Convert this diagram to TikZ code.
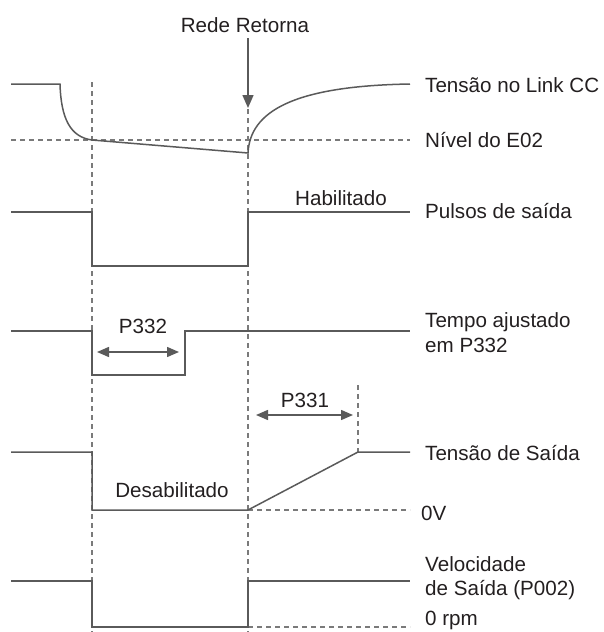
\documentclass[tikz,border=0pt]{standalone}
\usepackage{fontspec}
\setmainfont{Liberation Sans}
\usetikzlibrary{arrows.meta}
\definecolor{sigc}{HTML}{5A5A5A}
\definecolor{guidec}{HTML}{7A7A7A}
\definecolor{txtc}{HTML}{231F20}
\begin{document}
\begin{tikzpicture}[x=1pt,y=-1pt,
  sig/.style={draw=sigc,line width=1.5pt},
  guide/.style={draw=guidec,line width=1.2pt,dash pattern=on 5pt off 4pt},
  lbl/.style={anchor=base west,inner sep=0pt,text=txtc,font=\fontsize{20.6}{24}\selectfont},
  clbl/.style={anchor=base,inner sep=0pt,text=txtc,font=\fontsize{20.6}{24}\selectfont},
  dimarrow/.style={sig,{Triangle[length=12pt,width=10pt]}-{Triangle[length=12pt,width=10pt]}}]
\useasboundingbox (0,0) rectangle (603,632);

% vertical guides
\draw[guide] (92,82) -- (92,632);
\draw[guide] (248,82) -- (248,632);

% trace 1: Link CC
\draw[guide] (11,140) -- (410,140);
\draw[sig] (11,84) -- (60,84) .. controls (61,118) and (70,137) .. (92,140)
  -- (248,153) .. controls (250,112) and (292,86) .. (410,84);

% Rede Retorna arrow
\node[clbl] (rede) at (245,32) {Rede Retorna};
\coordinate (redeTip) at (248,108);
\draw[sig,-{Triangle[length=13pt,width=11pt]}] (248,38) -- (redeTip);

% trace 2: Pulsos
\draw[sig] (11,212) -- (92,212) -- (92,266) -- (248,266) -- (248,212) -- (410,212);
\node[lbl] (hab) at (295,205) {Habilitado};

% trace 3: Tempo P332
\draw[sig] (11,331) -- (92,331) -- (92,375) -- (185,375) -- (185,331) -- (410,331);
\coordinate (p332a) at (97,352);
\coordinate (p332b) at (179,352);
\draw[dimarrow] (p332a) -- (p332b);
\node[clbl] (p332) at (143,333) {P332};

% trace 4: Tensao de Saida
\draw[guide] (248,510) -- (410,510);
\draw[guide] (358,385) -- (358,452);
\draw[sig] (11,452) -- (92,452) -- (92,510) -- (248,510) -- (358,452) -- (410,452);
\coordinate (p331a) at (256,415);
\coordinate (p331b) at (353,415);
\draw[dimarrow] (p331a) -- (p331b);
\node[clbl] (p331) at (305,407) {P331};
\node[clbl] (desab) at (172,497) {Desabilitado};

% trace 5: Velocidade
\draw[guide] (248,627) -- (410,627);
\draw[sig] (11,581) -- (92,581) -- (92,627) -- (248,627) -- (248,581) -- (410,581);

% right labels
\node[lbl] (l1) at (425,92) {Tensão no Link CC};
\node[lbl] (l2) at (425,147) {Nível do E02};
\node[lbl] (l3) at (425,218) {Pulsos de saída};
\node[lbl] (l4a) at (425,327) {Tempo ajustado};
\node[lbl] (l4b) at (425,352) {em P332};
\node[lbl] (l5) at (425,460) {Tensão de Saída};
\node[lbl] (l6) at (421,520) {0V};
\node[lbl] (l7a) at (425,571) {Velocidade};
\node[lbl] (l7b) at (425,595) {de Saída (P002)};
\node[lbl] (l8) at (425,625) {0 rpm};
\end{tikzpicture}
\end{document}
